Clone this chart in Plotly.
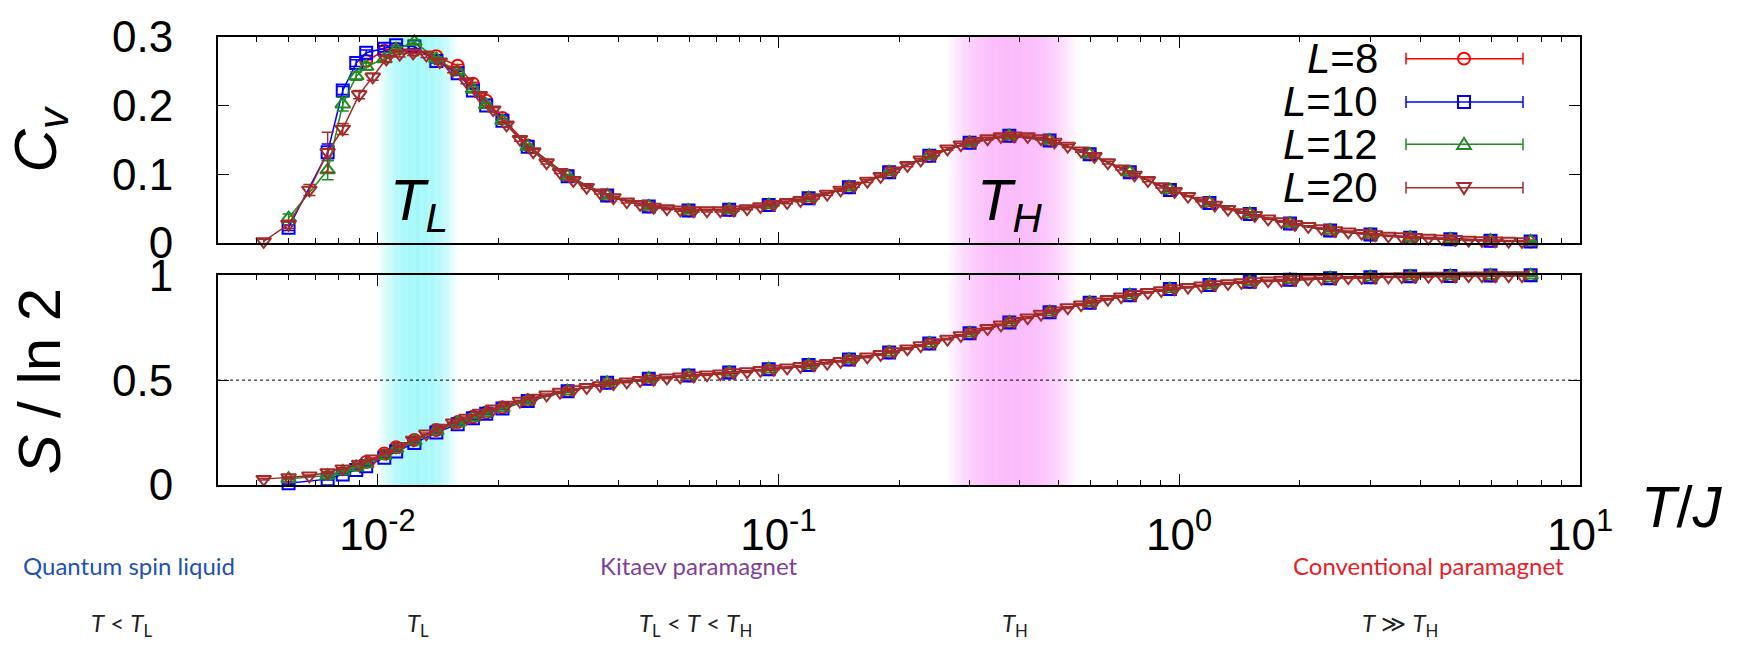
import numpy as np
import plotly.graph_objects as go
from plotly.subplots import make_subplots

# ---------------- data ----------------
T_L20 = [0.0052, 0.0060, 0.00676, 0.00751, 0.00819, 0.0090, 0.00973,
         0.01052, 0.01136, 0.01227, 0.01324, 0.01430, 0.01544, 0.01667, 0.01800, 0.01944, 0.02099,
         0.02266, 0.02447, 0.02642, 0.02853, 0.03081, 0.03326, 0.03592, 0.03878, 0.04188, 0.04522,
         0.04883, 0.05273, 0.05693, 0.06147, 0.06638, 0.07167, 0.07739, 0.08357, 0.09023, 0.09743,
         0.1052, 0.1136, 0.1227, 0.1324, 0.1430, 0.1544, 0.1667, 0.1800, 0.1944, 0.2099,
         0.2266, 0.2447, 0.2642, 0.2853, 0.3081, 0.3326, 0.3592, 0.3878, 0.4188, 0.4522,
         0.4883, 0.5273, 0.5693, 0.6147, 0.6638, 0.7167, 0.7739, 0.8357, 0.9023, 0.9743,
         1.052, 1.136, 1.227, 1.324, 1.430, 1.544, 1.667, 1.800, 1.944, 2.099,
         2.266, 2.447, 2.642, 2.853, 3.081, 3.326, 3.592, 3.878, 4.188, 4.522,
         4.883, 5.273, 5.693, 6.147, 6.638, 7.167]

CV_L20 = [0.002, 0.027, 0.077, 0.132, 0.166, 0.216, 0.242,
          0.268, 0.275, 0.277, 0.274, 0.264, 0.252, 0.235, 0.215, 0.194, 0.172,
          0.151, 0.133, 0.117, 0.103, 0.091, 0.081, 0.073, 0.066, 0.060, 0.056,
          0.052, 0.050, 0.048, 0.047, 0.047, 0.047, 0.048, 0.050, 0.053, 0.056,
          0.059, 0.062, 0.066, 0.071, 0.077, 0.083, 0.090, 0.097, 0.105, 0.113,
          0.121, 0.129, 0.137, 0.143, 0.148, 0.152, 0.155, 0.156, 0.155, 0.152,
          0.147, 0.141, 0.134, 0.126, 0.117, 0.108, 0.099, 0.091, 0.082, 0.075,
          0.068, 0.061, 0.055, 0.049, 0.044, 0.040, 0.035, 0.031, 0.027, 0.024,
          0.021, 0.018, 0.016, 0.014, 0.012, 0.010, 0.009, 0.008, 0.007, 0.006,
          0.005, 0.004, 0.0035, 0.003, 0.0025, 0.002]

CV_ERR_L20 = [0.003, 0.006, 0.008, 0.029, 0.008, 0.006, 0.005,
              0.004, 0.004, 0.004, 0.004, 0.004, 0.004, 0.003, 0.003, 0.003, 0.003,
              0.003, 0.003, 0.002, 0.002, 0.002, 0.002, 0.002, 0.002, 0.002, 0.002,
              0.002, 0.002, 0.002, 0.002, 0.002, 0.002, 0.002, 0.002, 0.002, 0.002,
              0.002, 0.002, 0.002, 0.002, 0.002, 0.002, 0.002, 0.002, 0.002, 0.002,
              0.002, 0.002, 0.002, 0.002, 0.002, 0.002, 0.002, 0.002, 0.002, 0.002,
              0.002, 0.002, 0.002, 0.002, 0.002, 0.002, 0.002, 0.002, 0.002, 0.002,
              0.001, 0.001, 0.001, 0.001, 0.001, 0.001, 0.001, 0.001, 0.001, 0.001,
              0.001, 0.001, 0.001, 0.001, 0.001, 0.001, 0.001, 0.001, 0.001, 0.001,
              0.001, 0.001, 0.001, 0.001, 0.001, 0.001]

S_L20 = [0.028, 0.036, 0.044, 0.060, 0.078, 0.100, 0.125,
         0.152, 0.185, 0.215, 0.244, 0.272, 0.297, 0.320, 0.343, 0.363, 0.382,
         0.400, 0.415, 0.430, 0.443, 0.455, 0.466, 0.475, 0.484, 0.492, 0.499,
         0.505, 0.511, 0.516, 0.521, 0.526, 0.531, 0.536, 0.541, 0.547, 0.553,
         0.559, 0.566, 0.573, 0.581, 0.590, 0.600, 0.611, 0.623, 0.636, 0.650,
         0.665, 0.680, 0.696, 0.713, 0.730, 0.747, 0.764, 0.781, 0.798, 0.815,
         0.831, 0.846, 0.860, 0.874, 0.886, 0.898, 0.909, 0.919, 0.928, 0.936,
         0.943, 0.950, 0.956, 0.961, 0.966, 0.970, 0.974, 0.977, 0.980, 0.983,
         0.985, 0.987, 0.989, 0.990, 0.992, 0.993, 0.994, 0.995, 0.996, 0.997,
         0.997, 0.998, 0.998, 0.999, 0.999, 0.999]

T_COARSE = [0.0060, 0.00751, 0.00819, 0.00885, 0.00937, 0.0104, 0.01113, 0.01236, 0.01402, 0.01585,
            0.0173, 0.01867, 0.0205, 0.0237, 0.0298, 0.0374, 0.0475, 0.0597, 0.0754, 0.0946,
            0.119, 0.150, 0.189, 0.238, 0.300, 0.377, 0.475, 0.598, 0.753, 0.948,
            1.19, 1.50, 1.89, 2.38, 3.00, 3.77, 4.75, 5.98, 7.53]

CV_L10 = [0.022, 0.132, 0.222, 0.262, 0.277, 0.283, 0.288, 0.286, 0.265, 0.247,
          0.222, 0.200, 0.178, 0.140, 0.097, 0.069, 0.053, 0.047, 0.048, 0.055,
          0.065, 0.081, 0.103, 0.127, 0.146, 0.156, 0.149, 0.129, 0.103, 0.077,
          0.058, 0.042, 0.028, 0.018, 0.012, 0.0075, 0.005, 0.003, 0.002]
CV_ERR_L10 = [0.004, 0.012, 0.006, 0.005, 0.004, 0.004, 0.003, 0.003, 0.003, 0.003,
              0.003, 0.003, 0.002, 0.002, 0.002, 0.002, 0.002, 0.002, 0.002, 0.002,
              0.002, 0.002, 0.002, 0.002, 0.002, 0.002, 0.002, 0.002, 0.002, 0.001,
              0.001, 0.001, 0.001, 0.001, 0.001, 0.001, 0.001, 0.001, 0.001]

CV_L12 = [0.036, 0.106, 0.202, 0.243, 0.257, 0.268, 0.282, 0.293, 0.268, 0.250,
          0.224, 0.201, 0.178, 0.140, 0.097, 0.069, 0.053, 0.047, 0.048, 0.055,
          0.065, 0.081, 0.103, 0.127, 0.146, 0.156, 0.149, 0.129, 0.103, 0.077,
          0.058, 0.042, 0.028, 0.018, 0.012, 0.0075, 0.005, 0.003, 0.002]
CV_ERR_L12 = [0.006, 0.014, 0.010, 0.006, 0.005, 0.004, 0.004, 0.003, 0.003, 0.003,
              0.003, 0.003, 0.002, 0.002, 0.002, 0.002, 0.002, 0.002, 0.002, 0.002,
              0.002, 0.002, 0.002, 0.002, 0.002, 0.002, 0.002, 0.002, 0.002, 0.001,
              0.001, 0.001, 0.001, 0.001, 0.001, 0.001, 0.001, 0.001, 0.001]

T_L8 = [0.00937, 0.0104, 0.01113, 0.01236, 0.01402, 0.01585,
        0.0173, 0.01867, 0.0205, 0.0237, 0.0298, 0.0374, 0.0475, 0.0597, 0.0754, 0.0946,
        0.119, 0.150, 0.189, 0.238, 0.300, 0.377, 0.475, 0.598, 0.753, 0.948,
        1.19, 1.50, 1.89, 2.38, 3.00, 3.77, 4.75, 5.98, 7.53]
CV_L8 = [0.265, 0.280, 0.283, 0.281, 0.272, 0.258, 0.232, 0.207, 0.182, 0.142,
         0.098, 0.069, 0.053, 0.047, 0.048, 0.055, 0.065, 0.081, 0.103, 0.127,
         0.146, 0.156, 0.149, 0.129, 0.103, 0.077, 0.058, 0.042, 0.028, 0.018,
         0.012, 0.0075, 0.005, 0.003, 0.002]

S_L10 = [0.008, 0.028, 0.050, 0.072, 0.090, 0.130, 0.160, 0.200, 0.250, 0.290,
         0.318, 0.340, 0.365, 0.400, 0.447, 0.487, 0.507, 0.522, 0.536, 0.552,
         0.572, 0.598, 0.632, 0.675, 0.724, 0.775, 0.824, 0.869, 0.905, 0.934,
         0.954, 0.969, 0.979, 0.986, 0.991, 0.995, 0.997, 0.999, 1.000]
S_L12 = [0.030, 0.045, 0.065, 0.085, 0.100, 0.140, 0.172, 0.210, 0.258, 0.296,
         0.322, 0.343, 0.367, 0.402, 0.447, 0.487, 0.507, 0.522, 0.536, 0.552,
         0.572, 0.598, 0.632, 0.675, 0.724, 0.775, 0.824, 0.869, 0.905, 0.934,
         0.954, 0.969, 0.979, 0.986, 0.991, 0.995, 0.997, 0.999, 1.000]
S_L8 = [0.110, 0.150, 0.180, 0.215, 0.262, 0.300, 0.325, 0.346, 0.369, 0.403,
        0.448, 0.488, 0.507, 0.522, 0.536, 0.552, 0.572, 0.598, 0.632, 0.675,
        0.724, 0.775, 0.824, 0.869, 0.905, 0.934, 0.954, 0.969, 0.979, 0.986,
        0.991, 0.995, 0.997, 0.999, 1.000]

# crossover regions (temperature ranges of the shaded bands and label positions)
BAND_TL = [0.0100, 0.0159]
BAND_TH = [0.263, 0.558]
T_L_MARK = 0.0127
T_H_MARK = 0.378

X_TICKS = [0.01, 0.1, 1, 10]
X_TICKTEXT = ["10<sup>-2</sup>", "10<sup>-1</sup>", "10<sup>0</sup>", "10<sup>1</sup>"]
X_MINOR = [0.005, 0.006, 0.007, 0.008, 0.009, 0.02, 0.03, 0.04, 0.05, 0.06, 0.07, 0.08, 0.09,
           0.2, 0.3, 0.4, 0.5, 0.6, 0.7, 0.8, 0.9, 2, 3, 4, 5, 6, 7, 8, 9]
CV_TICKS = [0, 0.1, 0.2, 0.3]
CV_TICKTEXT = ["0", "0.1", "0.2", "0.3"]
S_TICKS = [0, 0.5, 1]
S_TICKTEXT = ["0", "0.5", "1"]

SERIES = [
    ("L=8", "#ff0000", "circle-open"),
    ("L=10", "#0000ff", "square-open"),
    ("L=12", "#228b22", "triangle-up-open"),
    ("L=20", "#a52a2a", "triangle-down-open"),
]

# ---------------- figure ----------------
W, H = 1740, 646
ML, MR, MT, MB = 218, 160, 30, 161
PW, PH = W - ML - MR, H - MT - MB

def px2paper_x(px):
    return (px - ML) / PW

def px2paper_y(py):
    return (H - MB - py) / PH

fig = make_subplots(rows=2, cols=1, shared_xaxes=True)

data_cv = [(T_L8, CV_L8, None), (T_COARSE, CV_L10, CV_ERR_L10),
           (T_COARSE, CV_L12, CV_ERR_L12), (T_L20, CV_L20, CV_ERR_L20)]
data_s = [(T_L8, S_L8), (T_COARSE, S_L10), (T_COARSE, S_L12), (T_L20, S_L20)]

for (name, col, sym), (tx, cy, ce), (tx2, sy) in zip(SERIES, data_cv, data_s):
    msize = {"circle-open": 12, "square-open": 12, "triangle-up-open": 13, "triangle-down-open": 13}[sym]
    err = dict(type="data", array=ce if ce is not None else [0.002] * len(cy),
               color=col, thickness=1.5, width=6, visible=True)
    fig.add_trace(go.Scatter(x=tx, y=cy, mode="lines+markers", name=name, showlegend=False,
                             line=dict(color=col, width=1.5),
                             marker=dict(symbol=sym, size=msize, color=col, line=dict(width=2, color=col)),
                             error_y=err, cliponaxis=False), row=1, col=1)
    fig.add_trace(go.Scatter(x=tx2, y=sy, mode="lines+markers", name=name, showlegend=False,
                             line=dict(color=col, width=1.5),
                             marker=dict(symbol=sym, size=msize, color=col, line=dict(width=2, color=col)),
                             error_y=dict(type="data", array=[0.004] * len(sy), color=col,
                                          thickness=1.5, width=6),
                             cliponaxis=False), row=2, col=1)

tickfont = dict(family="Liberation Sans, Arial, sans-serif", size=44, color="black")
xcommon = dict(type="log", range=[np.log10(0.004), 1], showline=True, linewidth=2, linecolor="black",
               mirror="allticks", ticks="inside", ticklen=11, tickwidth=1, tickcolor="black",
               tickmode="array", tickvals=X_TICKS, ticktext=X_TICKTEXT, showgrid=False, zeroline=False,
               tickfont=tickfont,
               minor=dict(ticks="inside", ticklen=5, tickwidth=1, tickcolor="black",
                          tickmode="array", tickvals=X_MINOR, showgrid=False))
fig.update_xaxes(**xcommon)
fig.update_xaxes(showticklabels=False, row=1, col=1)
fig.update_xaxes(showticklabels=True, ticklabelstandoff=10, row=2, col=1)

ycommon = dict(showline=True, linewidth=2, linecolor="black", mirror="allticks", ticks="inside",
               ticklen=11, tickwidth=1, tickcolor="black", showgrid=False, zeroline=False,
               tickfont=tickfont, ticklabelstandoff=34, tickmode="array")
fig.update_yaxes(**ycommon)
fig.update_yaxes(range=[0, 0.3], tickvals=CV_TICKS, ticktext=CV_TICKTEXT, domain=[px2paper_y(239), 1], row=1, col=1)
fig.update_yaxes(range=[0, 1], tickvals=S_TICKS, ticktext=S_TICKTEXT, domain=[0, px2paper_y(272)], row=2, col=1)

shapes = []

def band(lo, hi, rgb, n=70):
    out = []
    llo, lhi = np.log10(lo), np.log10(hi)
    edges = np.linspace(llo, lhi, n + 1)
    mid, half = (llo + lhi) / 2, (lhi - llo) / 2
    for i in range(n):
        u = ((edges[i] + edges[i + 1]) / 2 - mid) / half
        a = max(0.0, 1 - abs(u) ** 2.5)
        c = [int(round(255 * (1 - a) + v * a)) for v in rgb]
        x1 = edges[i + 1] + (lhi - llo) / n * 0.3
        out.append(dict(type="rect", xref="x", yref="paper", x0=10 ** edges[i], x1=10 ** min(x1, lhi),
                        y0=0, y1=1, fillcolor=f"rgb({c[0]},{c[1]},{c[2]})",
                        line=dict(width=0), layer="below"))
    return out

shapes += band(BAND_TL[0], BAND_TL[1], (165, 248, 250))
shapes += band(BAND_TH[0], BAND_TH[1], (251, 188, 252))
shapes.append(dict(type="line", xref="x2 domain", yref="y2", x0=0, x1=1, y0=0.5, y1=0.5,
                   line=dict(color="black", width=1, dash="dot"), layer="below"))

# custom legend (error-bar style samples) in the top panel
annotations = []
lx0, lx1, lxm = px2paper_x(1406), px2paper_x(1523), px2paper_x(1464)
rows_py = [52, 96, 139, 183]
dx, dy = 6 / PW, 6 / PH
cap = 6 / PH
for (name, col, sym), py in zip(SERIES, rows_py):
    yp = px2paper_y(py)
    ln = dict(color=col, width=1.5)
    shapes.append(dict(type="line", xref="paper", yref="paper", x0=lx0, x1=lx1, y0=yp, y1=yp, line=ln))
    for xc in (lx0, lx1):
        shapes.append(dict(type="line", xref="paper", yref="paper", x0=xc, x1=xc, y0=yp - cap, y1=yp + cap, line=ln))
    mk = dict(color=col, width=2)
    if sym.startswith("circle"):
        shapes.append(dict(type="circle", xref="paper", yref="paper", x0=lxm - dx, x1=lxm + dx,
                           y0=yp - dy, y1=yp + dy, line=mk, fillcolor="rgba(0,0,0,0)"))
    elif sym.startswith("square"):
        shapes.append(dict(type="rect", xref="paper", yref="paper", x0=lxm - dx, x1=lxm + dx,
                           y0=yp - dy, y1=yp + dy, line=mk, fillcolor="rgba(0,0,0,0)"))
    elif sym.startswith("triangle-up"):
        shapes.append(dict(type="path", xref="paper", yref="paper",
                           path=f"M {lxm - dx*1.15},{yp - dy*0.8} L {lxm + dx*1.15},{yp - dy*0.8} L {lxm},{yp + dy*1.1} Z",
                           line=mk, fillcolor="rgba(0,0,0,0)"))
    else:
        shapes.append(dict(type="path", xref="paper", yref="paper",
                           path=f"M {lxm - dx*1.15},{yp + dy*0.8} L {lxm + dx*1.15},{yp + dy*0.8} L {lxm},{yp - dy*1.1} Z",
                           line=mk, fillcolor="rgba(0,0,0,0)"))
    annotations.append(dict(xref="paper", yref="paper", x=px2paper_x(1380), y=yp, xanchor="right",
                            yanchor="middle", showarrow=False,
                            text="<i>L</i>=" + name.split("=")[1],
                            font=dict(family="Liberation Sans, Arial, sans-serif", size=42, color="black")))

bigfont = dict(family="Liberation Sans, Arial, sans-serif", size=60, color="black")
annotations += [
    dict(xref="paper", yref="paper", x=px2paper_x(40), y=px2paper_y(134), text="<i>C<sub>v</sub></i>",
         textangle=-90, showarrow=False, xanchor="center", yanchor="middle", font=bigfont),
    dict(xref="paper", yref="paper", x=px2paper_x(40), y=px2paper_y(380), text="<i>S</i> / ln 2",
         textangle=-90, showarrow=False, xanchor="center", yanchor="middle", font=bigfont),
    dict(xref="paper", yref="paper", x=px2paper_x(1682), y=px2paper_y(507), text="<i>T</i>/<i>J</i>",
         showarrow=False, xanchor="center", yanchor="middle",
         font=dict(family="Liberation Sans, Arial, sans-serif", size=58, color="black")),
    dict(xref="x", yref="y", x=np.log10(T_L_MARK), y=0.0, text="<i>T<sub>L</sub></i>", showarrow=False,
         xanchor="center", yanchor="bottom",
         font=dict(family="Liberation Sans, Arial, sans-serif", size=58, color="black")),
    dict(xref="x", yref="y", x=np.log10(T_H_MARK), y=0.0, text="<i>T<sub>H</sub></i>", showarrow=False,
         xanchor="center", yanchor="bottom",
         font=dict(family="Liberation Sans, Arial, sans-serif", size=58, color="black")),
]

lab_font = "Lato, Liberation Sans, sans-serif"
row1_y, row2_y = px2paper_y(567), px2paper_y(627)
for txt, xc, col in [("Quantum spin liquid", 129, "#1f52b4"),
                     ("Kitaev paramagnet", 699, "#7f3f9f"),
                     ("Conventional paramagnet", 1428, "#e8202a")]:
    annotations.append(dict(xref="paper", yref="paper", x=px2paper_x(xc), y=row1_y, text=txt,
                            showarrow=False, xanchor="center", yanchor="middle",
                            font=dict(family=lab_font, size=24, color=col)))
for txt, xc in [("<i>T</i> &lt; <i>T</i><sub>L</sub>", 122),
                ("<i>T</i><sub>L</sub>", 418),
                ("<i>T</i><sub>L</sub> &lt; <i>T</i> &lt; <i>T</i><sub>H</sub>", 695),
                ("<i>T</i><sub>H</sub>", 1015),
                ("<i>T</i> ≫ <i>T</i><sub>H</sub>", 1400)]:
    annotations.append(dict(xref="paper", yref="paper", x=px2paper_x(xc), y=row2_y, text=txt,
                            showarrow=False, xanchor="center", yanchor="middle",
                            font=dict(family=lab_font, size=24, color="#222222")))

fig.update_layout(width=W, height=H, margin=dict(l=ML, r=MR, t=MT, b=MB, pad=0),
                  paper_bgcolor="white", plot_bgcolor="rgba(0,0,0,0)",
                  shapes=shapes, annotations=annotations, showlegend=False)

fig.write_html("out.html")
